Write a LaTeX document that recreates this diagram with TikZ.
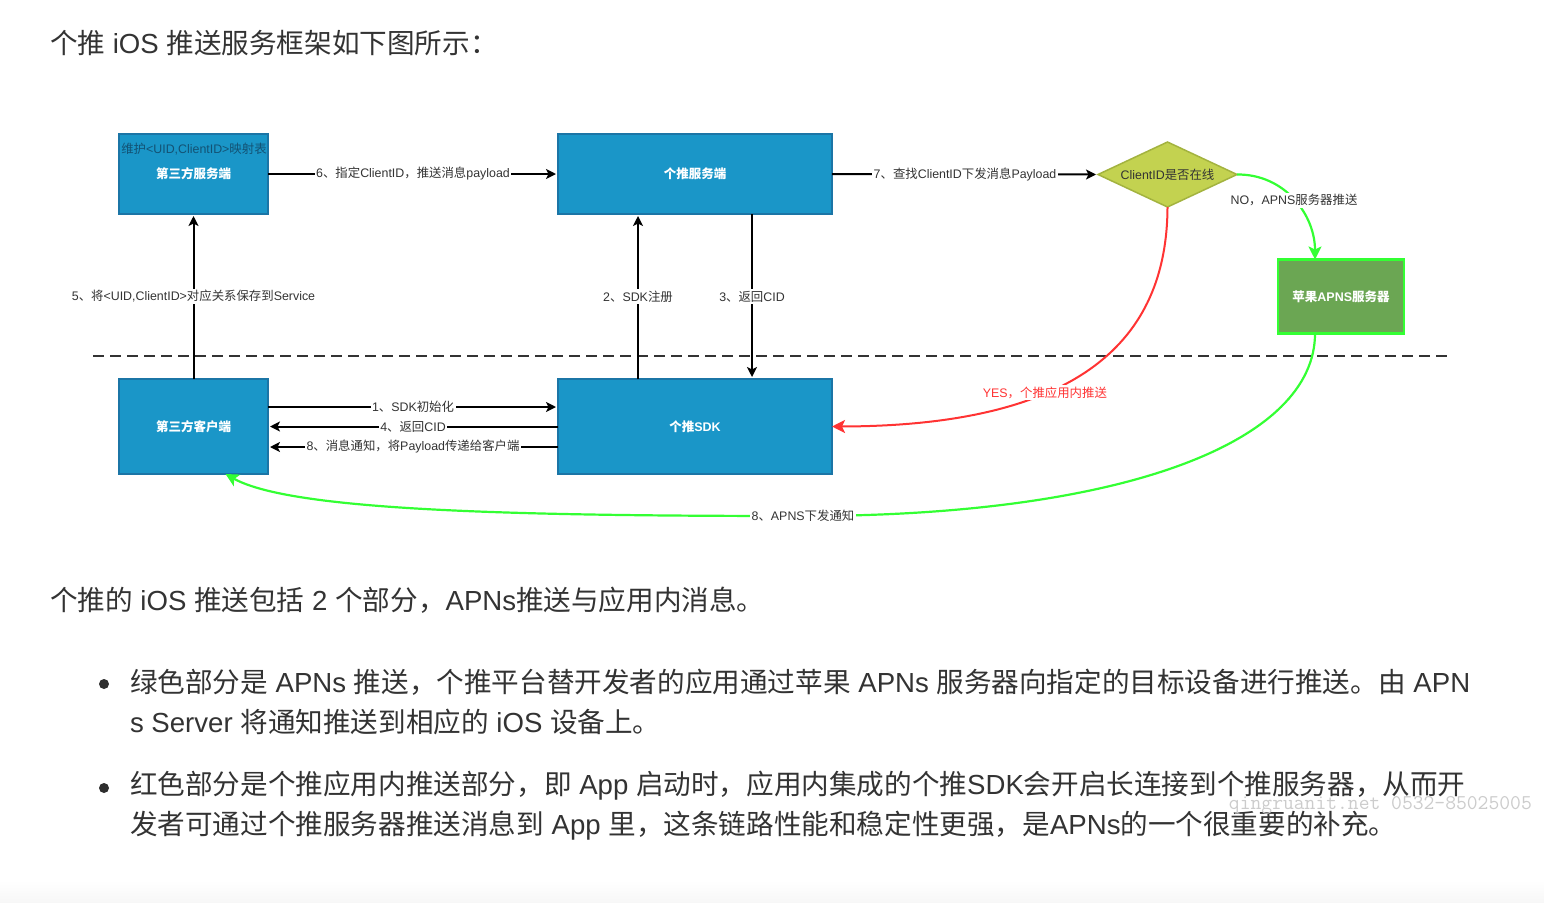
\documentclass[tikz,border=0pt]{standalone}
\usepackage{fontspec}
\usetikzlibrary{arrows.meta,shapes.geometric,calc}
\setmainfont{Liberation Sans}
\newfontfamily\cjkf{Noto Sans CJK SC}
\newfontfamily\latf{Liberation Sans}
\newfontfamily\wmf{Latin Modern Mono}
% automatic font switch between Latin and CJK runs
\newXeTeXintercharclass\cjkcls
\newcount\cc
\cc="3000
\loop\ifnum\cc<"A000 \XeTeXcharclass\cc=\cjkcls \advance\cc by 1 \repeat
\cc="FF00
\loop\ifnum\cc<"FFF0 \XeTeXcharclass\cc=\cjkcls \advance\cc by 1 \repeat
\XeTeXinterchartoks 0 \cjkcls={\cjkf}
\XeTeXinterchartoks 4095 \cjkcls={\cjkf}
\XeTeXinterchartoks \cjkcls 0={\latf}
\XeTeXinterchartoks \cjkcls 4095={\latf}
\XeTeXinterchartokenstate=1
\definecolor{bodyc}{HTML}{333333}
\definecolor{boxfill}{HTML}{1A96C8}
\definecolor{boxline}{HTML}{1B75A6}
\definecolor{dfill}{HTML}{C3D250}
\definecolor{dline}{HTML}{A3B33F}
\definecolor{gfill}{HTML}{6BA653}
\definecolor{glink}{HTML}{33FF33}
\definecolor{rlink}{HTML}{FF3333}
\tikzset{
  para/.style={anchor=west,inner sep=0pt,outer sep=0pt,text=bodyc,font=\fontsize{27.6}{32}\selectfont},
  bluebox/.style={draw=boxline,fill=boxfill,line width=1.2pt,inner sep=0pt,outer sep=0pt,text=white,font=\fontsize{12.5}{15}\bfseries\selectfont},
  lbl/.style={fill=white,inner sep=1.5pt,text=bodyc,font=\fontsize{12.4}{15}\selectfont},
  blk/.style={line width=2pt,black,-{Stealth[length=10pt,width=10pt,inset=2.5pt]},shorten >=2pt},
  grn/.style={line width=2.2pt,glink},
  red/.style={line width=2pt,rlink},
  tipg/.style={-{Stealth[length=13pt,width=13pt,inset=3pt]}},
  bul/.style={circle,fill=bodyc!90!black,inner sep=0pt,minimum size=10pt}
}
\begin{document}
\begin{tikzpicture}[x=1pt,y=-1pt]
\useasboundingbox (0,0) rectangle (1544,902);
\fill[white] (0,0) rectangle (1544,902);
\shade[top color=white,bottom color=black!3] (0,880) rectangle (1544,902);

\node[para] (t1) at (50,43) {个推 iOS 推送服务框架如下图所示：};
\node[para] (t2) at (50,600) {个推的 iOS 推送包括 2 个部分，APNs推送与应用内消息。};
\node[bul] (b1) at (104,684) {};
\node[para] (t3) at (130,682) {绿色部分是 APNs 推送，个推平台替开发者的应用通过苹果 APNs 服务器向指定的目标设备进行推送。由 APN};
\node[para] (t4) at (130,722) {s Server 将通知推送到相应的 iOS 设备上。};
\node[bul] (b2) at (104,788) {};
\node[para] (t5) at (130,786) {红色部分是个推应用内推送部分，即 App 启动时，应用内集成的个推SDK会开启长连接到个推服务器，从而开};
\node[para] (t6) at (130,826) {发者可通过个推服务器推送消息到 App 里，这条链路性能和稳定性更强，是APNs的一个很重要的补充。};

\node[bluebox,minimum width=149pt,minimum height=80pt] (tps) at (193.5,174) {第三方服务端};
\node[anchor=center,inner sep=0pt,text=boxline!70!black,font=\fontsize{12.4}{15}\selectfont] (tpsn) at (194,149) {维护<UID,ClientID>映射表};
\node[bluebox,minimum width=274pt,minimum height=80pt] (gts) at (695,174) {个推服务端};
\node[bluebox,minimum width=149pt,minimum height=95pt] (tpc) at (193.5,426.5) {第三方客户端};
\node[bluebox,minimum width=274pt,minimum height=95pt] (sdk) at (695,426.5) {个推SDK};
\node[bluebox,draw=glink,fill=gfill,line width=2.2pt,minimum width=126pt,minimum height=74pt] (apns) at (1341,296.5) {苹果APNS服务器};
\node[diamond,aspect=2.14,draw=dline,fill=dfill,line width=1.5pt,inner sep=0pt,outer sep=0pt,minimum width=139pt,minimum height=65pt,text=bodyc,font=\fontsize{12.4}{15}\selectfont] (dec) at (1167.5,174.5) {ClientID是否在线};

\draw[line width=2.6pt,bodyc,dash pattern=on 11pt off 6pt] (93,356) coordinate (dl) -- (1450,356) coordinate (dr);

\draw[blk] (tpc.north) -- node[lbl] (l5) {5、将<UID,ClientID>对应关系保存到Service} (tps.south);
\draw[blk] (tps.east) -- node[lbl] (l6) {6、指定ClientID，推送消息payload} (gts.west);
\draw[blk] (gts.east) -- node[lbl] (l7) {7、查找ClientID下发消息Payload} (dec.west);
\draw[blk] ([xshift=80pt]sdk.north west) -- node[lbl] (l2) {2、SDK注册} ([xshift=80pt]gts.south west);
\draw[blk] ([xshift=194pt]gts.south west) -- node[lbl] (l3) {3、返回CID} ([xshift=194pt]sdk.north west);
\draw[blk] ([yshift=19.5pt]tpc.east) -- node[lbl] (l1) {1、SDK初始化} ([yshift=19.5pt]sdk.west);
\draw[blk] (sdk.west) -- node[lbl] (l4) {4、返回CID} (tpc.east);
\draw[blk] ([yshift=-20.5pt]sdk.west) -- node[lbl] (l8) {8、消息通知，将Payload传递给客户端} ([yshift=-20.5pt]tpc.east);

\draw[red,tipg] (dec.south) .. controls (1167,340) and (1080,426) .. (sdk.east)
  node[pos=.63,lbl,text=rlink] (ly) {YES，个推应用内推送};
\draw[grn,tipg] (dec.east) .. controls (1285,174) and (1315,215) .. ([xshift=-26pt]apns.north)
  node[pos=.5,lbl] (ln) {NO，APNS服务器推送};
\coordinate (gm) at (803,516);
\draw[grn,tipg] ([xshift=-26pt]apns.south) .. controls (1315,440) and (1130,516) .. (gm)
  .. controls (500,516) and (290,510) .. ([xshift=32pt]tpc.south);
\node[lbl] (lg) at (gm) {8、APNS下发通知};

\node[anchor=east,inner sep=0pt,text=black!20,font=\wmf\fontsize{21}{24}\selectfont] (wm) at (1532,805) {qingruanit.net 0532-85025005};
\end{tikzpicture}
\end{document}
